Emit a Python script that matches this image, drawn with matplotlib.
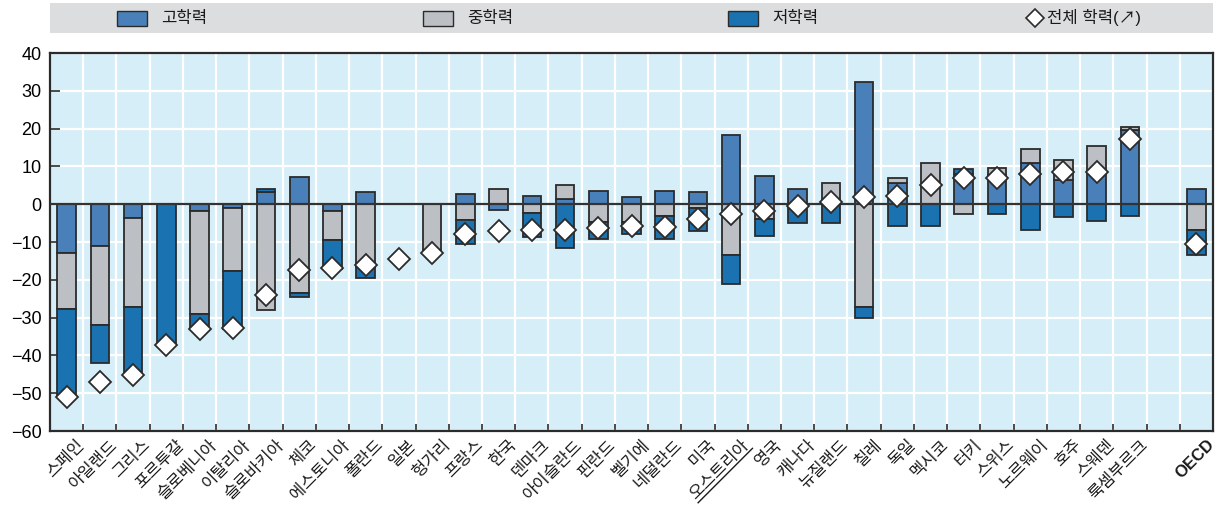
import numpy as np
import matplotlib
matplotlib.use("Agg")
import matplotlib.pyplot as plt
from matplotlib.patches import Rectangle
from matplotlib.lines import Line2D
from matplotlib.transforms import IdentityTransform

plt.rcParams['font.family'] = ['Liberation Sans', 'Noto Sans CJK KR', 'DejaVu Sans']

countries = ['스페인', '아일랜드', '그리스', '포르투갈', '슬로베니아', '이탈리아', '슬로바키아',
             '체코', '에스토니아', '폴란드', '일본', '헝가리', '프랑스', '한국', '덴마크',
             '아이슬란드', '핀란드', '벨기에', '네덜란드', '미국', '오스트리아', '영국', '캐나다',
             '뉴질랜드', '칠레', '독일', '멕시코', '터키', '스위스', '노르웨이', '호주', '스웨덴',
             '룩셈부르크', '', 'OECD']
underlined = ['오스트리아']

nan = np.nan
high = [-12.9, -11.0, -3.6, 0.0, -1.7, -1.1, 3.1, 7.1, -1.8, 3.3, nan, 0.0, 2.6, -1.6, 2.1,
        1.3, 3.4, 1.9, 3.5, 3.3, 18.3, 7.5, 4.1, 0.0, 32.4, 5.6, 0.0, 7.9, 7.6, 10.8, 6.3, 8.5,
        19.6, nan, 4.1]
medium = [-14.7, -21.0, -23.6, 0.0, -27.4, -16.6, -28.0, -23.4, -7.7, -16.6, nan, -12.2, -4.2, 3.9, -2.2,
          3.7, -4.7, -4.7, -3.2, -1.1, -13.5, -4.0, 0.0, 5.5, -27.2, 1.2, 10.9, -2.7, 2.0, 3.8, 5.3, 6.9,
          0.7, nan, -6.7]
low = [-23.5, -9.9, -18.0, -37.3, -3.8, -15.2, 0.9, -1.1, -7.7, -2.8, nan, -0.6, -6.4, 0.0, -6.4,
       -11.7, -4.6, -3.1, -5.9, -6.0, -7.5, -4.4, -4.9, -5.1, -3.0, -5.8, -5.8, 1.5, -2.5, -6.7, -3.4, -4.5,
       -3.2, nan, -6.8]
total = [-51.1, -47.0, -45.2, -37.3, -32.9, -32.7, -24.1, -17.5, -17.0, -16.1, -14.4, -12.8, -7.8, -7.1, -6.9,
         -6.7, -6.2, -5.7, -5.9, -3.8, -2.7, -1.8, -0.5, 0.6, 1.9, 2.1, 5.2, 6.8, 7.0, 7.9, 8.4, 8.5,
         17.2, nan, -10.4]

series_names = ['고학력', '중학력', '저학력']
legend_total = '전체 학력(↗)'
colors = ['#4a80b9', '#bcc0c4', '#1a72b1']
edge = '#2b2b2b'

W, H = 1215, 507
fig = plt.figure(figsize=(W / 100, H / 100), dpi=100)
ax = fig.add_axes([50 / W, 1 - 431 / H, 1163 / W, 378 / H])
ax.set_facecolor('#d6eef8')

x = np.arange(len(countries))
pos_base = np.zeros(len(countries))
neg_base = np.zeros(len(countries))
for vals, col, name in zip([high, medium, low], colors, series_names):
    v = np.array(vals, dtype=float)
    vv = np.nan_to_num(v)
    base = np.where(vv >= 0, pos_base, neg_base)
    mask = ~np.isnan(v) & (np.abs(vv) > 0)
    ax.bar(x[mask], vv[mask], bottom=base[mask], width=0.56, color=col,
           edgecolor=edge, linewidth=1.3, zorder=3, label=name)
    pos_base = pos_base + np.where(vv > 0, vv, 0)
    neg_base = neg_base + np.where(vv < 0, vv, 0)

ax.axhline(0, color='#333333', linewidth=1.6, zorder=4)
ax.plot(x, total, linestyle='none', marker='D', markersize=11, markerfacecolor='white',
        markeredgecolor=edge, markeredgewidth=1.3, zorder=5)

ax.set_xlim(-0.5, len(countries) - 0.5)
ax.set_ylim(-60, 40)
ax.set_yticks(np.arange(-60, 41, 10))
ax.set_xticks(np.arange(-0.5, len(countries), 1.0), minor=False)
ax.set_xticklabels([])
ax.grid(True, color='white', linewidth=1.6, zorder=1)
ax.set_axisbelow(True)
ax.tick_params(axis='y', direction='in', length=7, width=1.2, color='#2b2b2b', labelsize=13, pad=6)
ax.tick_params(axis='x', direction='in', length=5, width=1.2, color='#2b2b2b')
for s in ax.spines.values():
    s.set_color('#2b2b2b')
    s.set_linewidth(1.6)

label_fs = 12
label_texts = []
for i, name in enumerate(countries):
    if not name:
        continue
    t = ax.text(i + 0.3, -61.6, name, rotation=45, ha='right', va='top', rotation_mode='anchor',
                fontsize=label_fs, fontweight='bold' if name == 'OECD' else 'normal',
                color='#1a1a1a', transform=ax.transData, clip_on=False)
    label_texts.append((i, name, t))

# legend band
lax = fig.add_axes([50 / W, 1 - 33 / H, 1163 / W, 30 / H])
lax.set_facecolor('#dcdddf')
lax.set_xlim(0, 1163)
lax.set_ylim(0, 30)
lax.set_xticks([])
lax.set_yticks([])
for s in lax.spines.values():
    s.set_visible(False)
for xs, name, col in zip([67, 373, 678], series_names, colors):
    lax.add_patch(Rectangle((xs, 7.5), 30, 15, facecolor=col, edgecolor=edge, linewidth=1.0))
    lax.text(xs + 44, 15, name, va='center', ha='left', fontsize=12, color='#1a1a1a')
lax.plot([985], [15], marker='D', markersize=9, markerfacecolor='white', markeredgecolor=edge,
         markeredgewidth=1.2, linestyle='none')
lax.text(997, 15, legend_total, va='center', ha='left', fontsize=12, color='#1a1a1a')

# underline for marked labels
fig.canvas.draw()
renderer = fig.canvas.get_renderer()
c, s_ = np.cos(np.pi / 4), np.sin(np.pi / 4)
for i, name, t in label_texts:
    if name not in underlined:
        continue
    tmp = fig.text(0, 0, name, fontsize=label_fs)
    bb = tmp.get_window_extent(renderer)
    tmp.remove()
    w, h = bb.width, bb.height
    ax_pt = ax.transData.transform((i + 0.3, -61.6))
    off = h + 1.0
    pr = ax_pt + np.array([s_, -c]) * off
    pl = pr - np.array([c, s_]) * w
    fig.add_artist(Line2D([pl[0], pr[0]], [pl[1], pr[1]], transform=IdentityTransform(),
                          color='#1a1a1a', linewidth=1.0))

fig.savefig('out.png', dpi=100)
